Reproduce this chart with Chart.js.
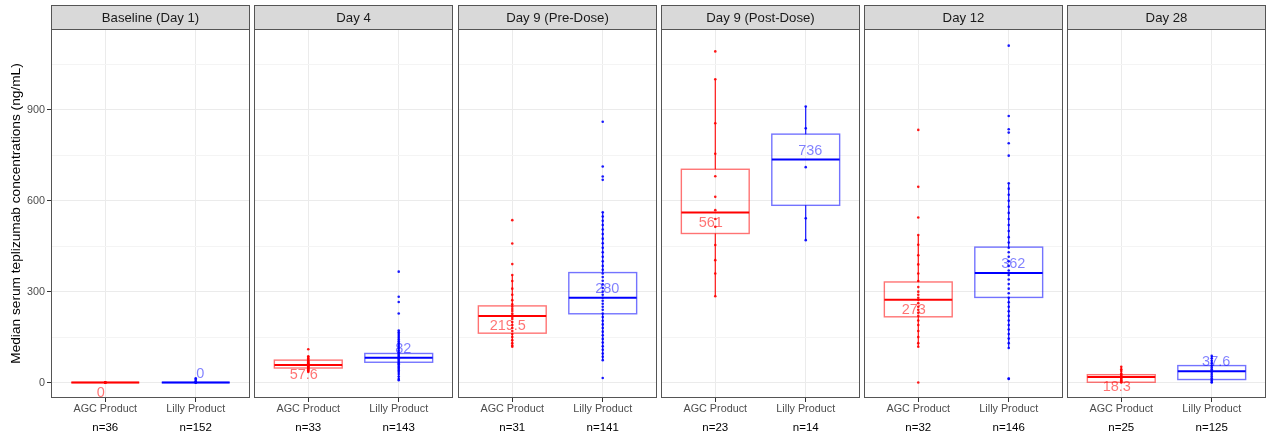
<!DOCTYPE html>
<html><head><meta charset="utf-8">
<script src="https://cdn.jsdelivr.net/npm/chart.js@4.4.1/dist/chart.umd.min.js"></script>
<style>
html,body{margin:0;padding:0;background:#fff;width:1267px;height:437px;overflow:hidden}
#wrap{position:relative;width:1267px;height:437px}
canvas{position:absolute;top:0}
</style></head><body><div id="wrap"></div>
<script>
// ---------- data ----------
const panels = ["Baseline (Day 1)", "Day 4", "Day 9 (Pre-Dose)", "Day 9 (Post-Dose)", "Day 12", "Day 28"];
const groups = ["AGC Product", "Lilly Product"];
const nAGC   = [36, 33, 31, 23, 32, 25];
const nLilly = [152, 143, 141, 14, 146, 125];
const medAGC   = [0, 57.6, 219.5, 561, 273, 18.3];
const medLilly = [0, 82, 280, 736, 362, 37.6];
const q1AGC = [0, 48, 163, 492, 217, 1];
const q3AGC = [0, 74, 253, 704, 332, 26];
const loAGC = [0, 35, 118, 285, 118, 0];
const hiAGC = [0, 87, 355, 1001, 487, 52];
const q1Lilly = [0, 67, 227, 585, 281, 10];
const q3Lilly = [0, 96, 363, 820, 447, 56];
const loLilly = [0, 8, 74, 470, 114, 0];
const hiLilly = [0, 172, 562, 911, 658, 88];
const ptsAGC = [
  [0, 0, 0, 0, 0, 0],
  [110, 87, 84, 80, 76, 73, 70, 67, 64, 62, 60, 58, 56, 54, 52, 50, 48, 46, 44, 41, 38, 35],
  [536, 459, 391, 355, 335, 310, 290, 272, 258, 250, 243, 236, 228, 222, 216, 210, 200, 190, 180, 170, 160, 150, 140, 130, 122, 118],
  [1093, 1001, 856, 755, 681, 613, 569, 540, 514, 454, 404, 360, 285],
  [834, 646, 545, 487, 455, 420, 390, 360, 335, 315, 300, 290, 280, 273, 262, 250, 240, 230, 220, 205, 190, 170, 150, 130, 118, 0],
  [52, 44, 38, 30, 26, 22, 20, 18, 15, 12, 8, 5, 2, 0]
];
const ptsLilly = [
  [0, 0, 0, 2, 5, 10, 14],
  [366, 283, 266, 228, 172, 166, 160, 154, 148, 142, 136, 130, 124, 118, 112, 106, 100, 96, 92, 88, 84, 80, 76, 72, 68, 64, 60, 55, 50, 45, 40, 35, 28, 20, 12, 8],
  [861, 713, 680, 669, 562, 548, 534, 520, 505, 490, 475, 460, 445, 430, 415, 400, 385, 372, 360, 348, 336, 324, 312, 300, 290, 280, 270, 260, 250, 240, 228, 216, 204, 192, 180, 168, 156, 144, 132, 120, 108, 96, 85, 74, 15],
  [911, 839, 711, 542, 470],
  [1112, 880, 836, 825, 790, 749, 658, 640, 620, 600, 580, 560, 540, 520, 500, 480, 462, 445, 430, 415, 400, 385, 370, 355, 340, 325, 310, 295, 280, 265, 250, 235, 220, 205, 190, 175, 160, 145, 130, 114, 13, 12],
  [88, 80, 72, 64, 56, 50, 44, 38, 32, 26, 20, 14, 8, 2, 0]
];
const yMajor = [0, 300, 600, 900];
const yMinor = [150, 450, 750, 1050];
const yTitle = "Median serum teplizumab concentrations (ng/mL)";

// ---------- style / layout ----------
const FONT = "'Liberation Sans', Arial, Helvetica, sans-serif";
const Y_MIN = -51, Y_MAX = 1167;
const PL = [51, 254, 458, 661, 864, 1067];
const PW = 199;
const COLORS = [
  {line: '#ff0000', box: 'rgba(255,0,0,0.55)', text: 'rgba(255,0,0,0.55)', pt: 'rgba(255,0,0,0.9)'},
  {line: '#0000ff', box: 'rgba(0,0,255,0.55)', text: 'rgba(0,0,255,0.5)', pt: 'rgba(0,0,255,0.9)'}
];

const boxPlugin = {
  id: 'boxes',
  beforeDatasetsDraw(chart) {
    const o = chart.options.plugins.boxes;
    const xs = chart.scales.x, ys = chart.scales.y, ctx = chart.ctx;
    const py = v => ys.getPixelForValue(v);
    ctx.save();
    o.stats.forEach((s, k) => {
      const c = COLORS[k];
      const cx = xs.getPixelForValue(k + 1);
      const half = xs.getPixelForValue(k + 1 + 0.375) - cx;
      ctx.strokeStyle = c.line; ctx.lineWidth = 1.1;
      ctx.beginPath();
      ctx.moveTo(cx, py(s.q3)); ctx.lineTo(cx, py(s.hi));
      ctx.moveTo(cx, py(s.q1)); ctx.lineTo(cx, py(s.lo));
      ctx.stroke();
      ctx.strokeStyle = c.box; ctx.lineWidth = 1.4;
      ctx.strokeRect(cx - half, py(s.q3), 2 * half, py(s.q1) - py(s.q3));
      ctx.strokeStyle = c.line; ctx.lineWidth = 2;
      ctx.beginPath(); ctx.moveTo(cx - half, py(s.med)); ctx.lineTo(cx + half, py(s.med)); ctx.stroke();
    });
    ctx.restore();
  },
  afterDatasetsDraw(chart) {
    const o = chart.options.plugins.boxes;
    const xs = chart.scales.x, ys = chart.scales.y, ctx = chart.ctx;
    ctx.save();
    ctx.font = '14.5px ' + FONT;
    ctx.textAlign = 'center'; ctx.textBaseline = 'middle';
    o.stats.forEach((s, k) => {
      const cx = xs.getPixelForValue(k + 1) + (k === 0 ? -4.5 : 4.5);
      const y = ys.getPixelForValue(s.med) + (k === 0 ? 10 : -9);
      ctx.fillStyle = COLORS[k].text;
      ctx.fillText(String(s.med), cx, y);
    });
    ctx.restore();
  },
  afterDraw(chart) {
    const o = chart.options.plugins.boxes;
    const a = chart.chartArea, ctx = chart.ctx;
    ctx.save();
    ctx.strokeStyle = '#555'; ctx.lineWidth = 1;
    ctx.strokeRect(a.left + 0.5, a.top + 0.5, a.right - a.left - 1, a.bottom - a.top - 1);
    ctx.fillStyle = '#d9d9d9';
    ctx.fillRect(a.left + 0.5, 5.5, a.right - a.left - 1, 24);
    ctx.strokeRect(a.left + 0.5, 5.5, a.right - a.left - 1, 24);
    ctx.fillStyle = '#1a1a1a';
    ctx.font = '13.2px ' + FONT;
    ctx.textAlign = 'center'; ctx.textBaseline = 'middle';
    ctx.fillText(o.strip, (a.left + a.right) / 2, 18);
    ctx.restore();
  }
};

const wrap = document.getElementById('wrap');
panels.forEach((title, i) => {
  const first = i === 0;
  const cv = document.createElement('canvas');
  const left = first ? 0 : PL[i];
  const w = first ? PL[0] + PW + 1 : PW + 1;
  cv.width = w; cv.height = 437;
  cv.style.left = left + 'px'; cv.style.width = w + 'px'; cv.style.height = '437px';
  wrap.appendChild(cv);
  const nums = [nAGC[i], nLilly[i]];
  const stats = [
    {q1: q1AGC[i], q3: q3AGC[i], med: medAGC[i], lo: loAGC[i], hi: hiAGC[i]},
    {q1: q1Lilly[i], q3: q3Lilly[i], med: medLilly[i], lo: loLilly[i], hi: hiLilly[i]}
  ];
  new Chart(cv, {
    type: 'scatter',
    data: {
      datasets: [
        {label: groups[0], data: ptsAGC[i].map(v => ({x: 1, y: v})), pointRadius: 1.3, pointHoverRadius: 0, pointBorderWidth: 0, backgroundColor: COLORS[0].pt, borderColor: COLORS[0].pt},
        {label: groups[1], data: ptsLilly[i].map(v => ({x: 2, y: v})), pointRadius: 1.3, pointHoverRadius: 0, pointBorderWidth: 0, backgroundColor: COLORS[1].pt, borderColor: COLORS[1].pt}
      ]
    },
    options: {
      responsive: false, animation: false, devicePixelRatio: 1, events: [],
      layout: {autoPadding: false, padding: {top: 29, right: 1, left: 0, bottom: 0}},
      plugins: {legend: {display: false}, tooltip: {enabled: false}, title: {display: false},
        boxes: {stats: stats, strip: title}},
      scales: {
        x: {
          type: 'linear', position: 'bottom', weight: 0, min: 0.4, max: 2.6,
          afterBuildTicks: s => { s.ticks = [{value: 1}, {value: 2}]; },
          afterFit: s => { s.height = 20; },
          ticks: {callback: v => groups[Math.round(v) - 1], color: '#4d4d4d', font: {family: FONT, size: 10.8}, padding: 1, maxRotation: 0, autoSkip: false},
          grid: {color: '#ebebeb', lineWidth: 1, tickLength: 4, tickColor: '#333'},
          border: {display: false}
        },
        x2: {
          type: 'linear', position: 'bottom', weight: 1, min: 0.4, max: 2.6,
          afterBuildTicks: s => { s.ticks = [{value: 1}, {value: 2}]; },
          afterFit: s => { s.height = 19; },
          ticks: {callback: v => 'n=' + nums[Math.round(v) - 1], color: '#000', font: {family: FONT, size: 11.5}, padding: 2.8, maxRotation: 0, autoSkip: false},
          grid: {display: false, drawTicks: false, tickLength: 0},
          border: {display: false}
        },
        y: {
          type: 'linear', position: 'left', min: Y_MIN, max: Y_MAX,
          afterBuildTicks: s => { s.ticks = yMajor.concat(yMinor).sort((a, b) => a - b).map(v => ({value: v})); },
          afterFit: s => { s.width = first ? PL[0] : 0; },
          ticks: {display: first, callback: v => (v % 300 === 0 ? String(v) : ''), color: '#4d4d4d', font: {family: FONT, size: 10.8}, padding: 2, autoSkip: false},
          grid: {
            color: c => (c.tick && c.tick.value % 300 === 0) ? '#ebebeb' : '#f4f4f4',
            lineWidth: 1,
            drawTicks: first, tickLength: 4,
            tickColor: c => (c.tick && c.tick.value % 300 === 0) ? '#333' : 'rgba(0,0,0,0)'
          },
          border: {display: false},
          title: {display: first, text: yTitle, color: '#000', font: {family: FONT, size: 13.7}, padding: {top: 7.8, bottom: 0}}
        }
      }
    },
    plugins: [boxPlugin]
  });
});
</script>
</body></html>
